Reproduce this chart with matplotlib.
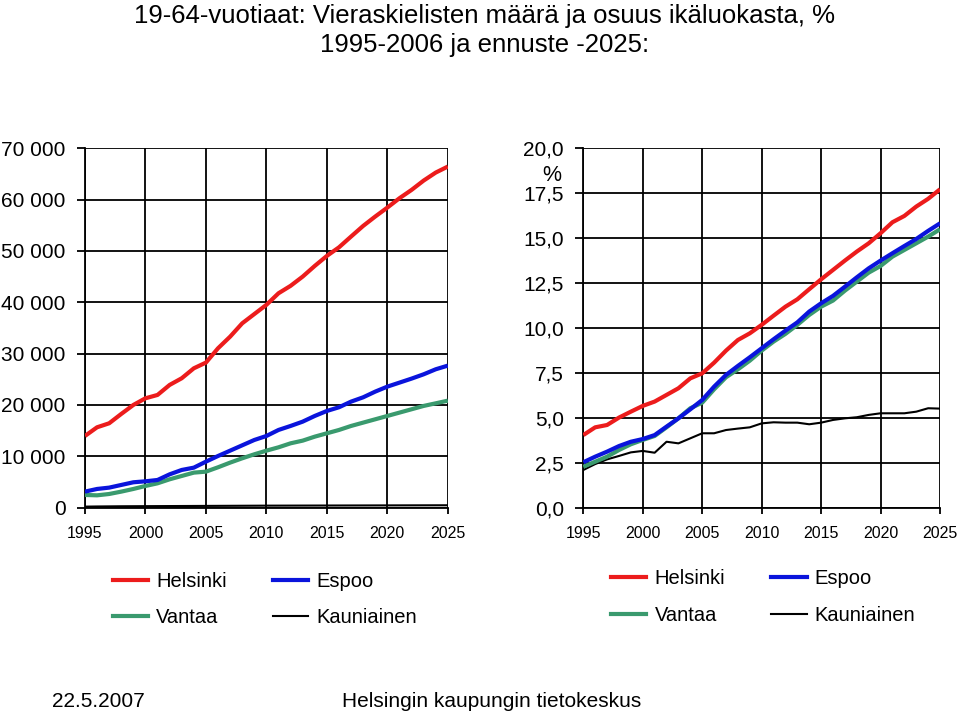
import numpy as np
import matplotlib
matplotlib.use("Agg")
import matplotlib.pyplot as plt
from matplotlib.lines import Line2D

plt.rcParams['font.family'] = ['Liberation Sans', 'DejaVu Sans']

years = list(range(1995, 2026))

# number of foreign-language speakers aged 19-64
helsinki_n = [13960, 15650, 16430, 18250, 20000, 21300, 21950, 23900, 25200, 27140,
              28250, 31040, 33300, 35900, 37700, 39500, 41750, 43200, 45000, 47080,
              49030, 50700, 52800, 54870, 56700, 58440, 60260, 61880, 63700, 65260, 66430]
espoo_n = [3120, 3640, 3900, 4420, 4940, 5130, 5390, 6490, 7340, 7790,
           8960, 10060, 11100, 12140, 13180, 13960, 15130, 15910, 16750, 17860,
           18830, 19550, 20650, 21490, 22600, 23570, 24350, 25130, 25970, 26950, 27660]
vantaa_n = [2470, 2400, 2660, 3120, 3640, 4220, 4740, 5520, 6170, 6820,
            7010, 7860, 8770, 9610, 10390, 11100, 11750, 12530, 13050, 13830,
            14480, 15130, 15910, 16560, 17210, 17860, 18510, 19160, 19810, 20320, 20840]
kauniainen_n = [200, 230, 250, 270, 280, 290, 300, 310, 320, 330,
                340, 350, 360, 370, 380, 390, 395, 400, 405, 410,
                415, 420, 425, 430, 435, 440, 445, 450, 455, 460, 465]

# share of age group, %
helsinki_p = [4.07, 4.50, 4.63, 5.04, 5.37, 5.69, 5.93, 6.30, 6.67, 7.22,
              7.50, 8.09, 8.76, 9.35, 9.72, 10.19, 10.70, 11.20, 11.61, 12.17,
              12.72, 13.24, 13.76, 14.26, 14.72, 15.28, 15.89, 16.24, 16.76, 17.19, 17.72]
espoo_p = [2.56, 2.87, 3.15, 3.46, 3.70, 3.85, 4.07, 4.54, 5.00, 5.50,
           6.02, 6.76, 7.41, 7.91, 8.39, 8.89, 9.39, 9.87, 10.33, 10.93,
           11.39, 11.80, 12.31, 12.83, 13.33, 13.76, 14.17, 14.57, 14.96, 15.41, 15.83]
vantaa_p = [2.31, 2.59, 2.87, 3.24, 3.56, 3.80, 4.02, 4.50, 5.00, 5.56,
            5.87, 6.61, 7.28, 7.72, 8.20, 8.76, 9.26, 9.69, 10.19, 10.74,
            11.20, 11.54, 12.09, 12.59, 13.09, 13.46, 13.98, 14.35, 14.72, 15.09, 15.50]
kauniainen_p = [2.13, 2.46, 2.72, 2.91, 3.11, 3.19, 3.09, 3.70, 3.61, 3.89,
                4.17, 4.17, 4.35, 4.43, 4.50, 4.72, 4.78, 4.76, 4.76, 4.67,
                4.76, 4.91, 5.00, 5.06, 5.19, 5.28, 5.28, 5.28, 5.37, 5.56, 5.54]

names = ["Helsinki", "Espoo", "Vantaa", "Kauniainen"]
colors = ["#ec1c1c", "#0a14dc", "#3a9a6e", "#000000"]
widths = [3.0, 3.0, 3.0, 1.5]

fig = plt.figure(figsize=(9.6, 7.15), dpi=100)
ax1 = fig.add_axes([0.0885, 0.290, 0.378, 0.5027])
ax2 = fig.add_axes([0.6076, 0.289, 0.3716, 0.5037])

series1 = [helsinki_n, espoo_n, vantaa_n, kauniainen_n]
series2 = [helsinki_p, espoo_p, vantaa_p, kauniainen_p]

# Kauniainen first so the bold lines sit on top
for ax, series in [(ax1, series1), (ax2, series2)]:
    for i in [3, 2, 1, 0]:
        ax.plot(years, series[i], color=colors[i], lw=widths[i],
                solid_capstyle='butt', zorder=3)
    ax.set_xlim(1995, 2025)
    ax.set_xticks(range(1995, 2026, 5))
    ax.grid(True, color="black", lw=1.3)
    ax.set_axisbelow(True)
    for s in ["top", "right"]:
        ax.spines[s].set_visible(False)
    for s in ["left", "bottom"]:
        ax.spines[s].set_linewidth(1.3)
    ax.tick_params(axis='x', direction='out', length=4, width=1.3,
                   labelsize=11.5, pad=9)
    ax.tick_params(axis='y', direction='out', length=6, width=1.3,
                   labelsize=15, pad=8)

ax1.set_ylim(0, 70000)
ax1.set_yticks(range(0, 70001, 10000))
ax1.set_yticklabels(["0" if v == 0 else f"{v // 1000} 000" for v in range(0, 70001, 10000)])

ax2.set_ylim(0, 20)
yt = np.arange(0, 20.01, 2.5)
ax2.set_yticks(yt)
ax2.set_yticklabels([f"{v:.1f}".replace(".", ",") for v in yt])
ax2.text(-0.088, 0.923, "%", transform=ax2.transAxes, fontsize=15.5,
         ha="center", va="center")

handles = [Line2D([], [], color=colors[i], lw=widths[i]) for i in range(4)]
order = [0, 2, 1, 3]
for cx, cy in [(0.276, 0.161), (0.795, 0.165)]:
    fig.legend([handles[i] for i in order], [names[i] for i in order], ncol=2,
               loc="center", bbox_to_anchor=(cx, cy), frameon=False,
               fontsize=14.5, handlelength=1.75, handletextpad=0.4,
               columnspacing=2.3, labelspacing=0.85)

fig.text(0.505, 0.978, "19-64-vuotiaat: Vieraskielisten määrä ja osuus ikäluokasta, %",
         ha="center", va="center", fontsize=18.5)
fig.text(0.505, 0.937, "1995-2006 ja ennuste -2025:", ha="center", va="center",
         fontsize=18.5)

fig.text(0.054, 0.019, "22.5.2007", ha="left", va="center", fontsize=15)
fig.text(0.512, 0.019, "Helsingin kaupungin tietokeskus", ha="center",
         va="center", fontsize=15)

fig.savefig("out.png", dpi=100)
